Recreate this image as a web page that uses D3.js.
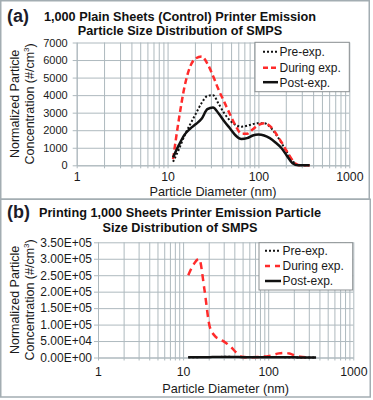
<!DOCTYPE html>
<html>
<head>
<meta charset="utf-8">
<script src="https://cdn.jsdelivr.net/npm/d3@7"></script>
<style>
  body { margin: 0; background: #fff; }
  svg text { font-family: "Liberation Sans", Arial, sans-serif; }
</style>
</head>
<body>
<div class="chart"></div>
<script>
// SMPS bin diameters (nm)
const diameters = [11.5, 13.3, 15.4, 17.8, 20.5, 23.7, 27.4, 31.6, 36.5, 42.2, 48.7, 56.2, 64.9, 75, 86.6, 100, 115.5, 133.4, 154, 177.8, 205.4, 237.1, 273.8, 316.2, 365.2];

// (a) control, plain sheets
const preA    = [200, 900, 1700, 2350, 2950, 3550, 3950, 4000, 3500, 2950, 2550, 2300, 2200, 2250, 2350, 2400, 2400, 2200, 1800, 1300, 750, 250, 20, 0, 0];
const duringA = [350, 2600, 4500, 5650, 6100, 6200, 5800, 5100, 4300, 3600, 2900, 2250, 1800, 1800, 2050, 2300, 2400, 2250, 1850, 1350, 800, 280, 20, 0, 0];
const postA   = [450, 1150, 1750, 2100, 2350, 2650, 3200, 3300, 2950, 2500, 2100, 1700, 1500, 1550, 1700, 1750, 1700, 1550, 1300, 1000, 550, 120, 0, 0, 0];

// (b) printing 1,000 sheets
const preB    = [600, 900, 1100, 1300, 1500, 1700, 1900, 2000, 1900, 1700, 1500, 1300, 1200, 1200, 1300, 1400, 1400, 1300, 1100, 900, 600, 300, 100, 0, 0];
const duringB = [250000, 283000, 300000, 207000, 95000, 65000, 55000, 45000, 32000, 15000, 2500, 1000, 1000, 1500, 2500, 4000, 8000, 12500, 14000, 12000, 6500, 2500, 500, null, null];
const postB   = [400, 700, 900, 1000, 1100, 1200, 1300, 1400, 1300, 1200, 1100, 1000, 900, 900, 1000, 1000, 1000, 900, 800, 600, 400, 200, 50, 0, 0];

const seriesNames = ["Pre-exp.", "During exp.", "Post-exp."];
const xDecades = [1, 10, 100, 1000];
const yTicksA = [0, 1000, 2000, 3000, 4000, 5000, 6000, 7000];
const yTicksB = [0, 50000, 100000, 150000, 200000, 250000, 300000, 350000];

const titleA = ["1,000 Plain Sheets (Control) Printer Emission", "Particle Size Distribution of SMPS"];
const titleB = ["Printing 1,000 Sheets Printer Emission Particle", "Size Distribution of SMPS"];

const gridColor = "#aeb9be";
const red = "#ff2b2b";

const svg = d3.select(".chart")
	.append("svg")
	.attr("width", 373)
	.attr("height", 400);

// all log gridline positions 1..1000
const xGrid = [];
[1, 10, 100].forEach(function(dec) {
	for (let k = 1; k < 10; k++) xGrid.push(dec * k);
});
xGrid.push(1000);

function sciFormat(v) {
	const parts = v.toExponential(2).split("e");
	const exp = Number(parts[1]);
	return parts[0] + "E" + (exp < 0 ? "-" : "+") + String(Math.abs(exp)).padStart(2, "0");
}

function drawPanel(p) {
	const g = svg.append("g");

	// panel frame
	g.append("rect")
		.attr("x", p.frame[0]).attr("y", p.frame[1])
		.attr("width", p.frame[2]).attr("height", p.frame[3])
		.attr("fill", "none")
		.attr("stroke", "#a3adb2")
		.attr("stroke-width", 1.5);

	const x = d3.scaleLog().domain([1, 1000]).range([p.left, p.right]);
	const y = d3.scaleLinear().domain([0, p.yMax]).range([p.bottom, p.top]);

	// x grid + labels
	const xAxis = g.append("g")
		.attr("transform", "translate(0," + p.bottom + ")")
		.call(d3.axisBottom(x)
			.tickValues(xGrid)
			.tickSizeInner(-(p.bottom - p.top))
			.tickSizeOuter(0)
			.tickPadding(p.xPad)
			.tickFormat(function(d) { return xDecades.indexOf(d) >= 0 ? d : ""; }));
	xAxis.select(".domain").attr("stroke", gridColor);
	xAxis.selectAll(".tick line").attr("stroke", gridColor).attr("y1", 3);
	xAxis.selectAll(".tick text")
		.attr("fill", "#1a1a1a")
		.style("font-size", p.xFont + "px");

	// y grid + labels
	const yAxis = g.append("g")
		.attr("transform", "translate(" + p.left + ",0)")
		.call(d3.axisLeft(y)
			.tickValues(p.yTicks)
			.tickSizeInner(-(p.right - p.left))
			.tickSizeOuter(0)
			.tickPadding(p.yPad)
			.tickFormat(p.yFormat));
	yAxis.select(".domain").attr("stroke", gridColor);
	yAxis.selectAll(".tick line").attr("stroke", gridColor).attr("x1", -4);
	yAxis.selectAll(".tick text")
		.attr("fill", "#1a1a1a")
		.style("font-size", p.yFont + "px");

	// curves
	const line = d3.line()
		.defined(function(d) { return d[1] != null; })
		.x(function(d) { return x(d[0]); })
		.y(function(d) { return y(d[1]); })
		.curve(d3.curveMonotoneX);

	const styles = [
		{ stroke: "#111", width: 2, dash: "2,2" },
		{ stroke: red, width: 2.5, dash: p.redDash },
		{ stroke: "#111", width: 2.5, dash: null }
	];

	p.series.forEach(function(vals, i) {
		g.append("path")
			.datum(diameters.map(function(d, j) { return [d, vals[j]]; }))
			.attr("fill", "none")
			.attr("stroke", styles[i].stroke)
			.attr("stroke-width", styles[i].width)
			.attr("stroke-dasharray", styles[i].dash)
			.attr("d", line);
	});

	// legend
	const lg = g.append("g");
	lg.append("rect")
		.attr("x", p.legend[0]).attr("y", p.legend[1])
		.attr("width", p.legend[2]).attr("height", p.legend[3])
		.attr("fill", "#fff")
		.attr("stroke", "#8a8f92")
		.attr("stroke-width", 1);
	seriesNames.forEach(function(name, i) {
		const cy = p.legendRows[i];
		lg.append("line")
			.attr("x1", p.sample[0]).attr("x2", p.sample[1])
			.attr("y1", cy).attr("y2", cy)
			.attr("stroke", styles[i].stroke)
			.attr("stroke-width", styles[i].width)
			.attr("stroke-dasharray", i === 1 ? p.legendDash : styles[i].dash);
		lg.append("text")
			.attr("x", p.sample[1] + 1.5)
			.attr("y", cy + 4.3)
			.attr("fill", "#1a1a1a")
			.style("font-size", "12px")
			.text(name);
	});

	// panel letter
	g.append("text")
		.attr("x", 7)
		.attr("y", p.letterY)
		.attr("fill", "#1c1c2a")
		.style("font-size", "18px")
		.style("font-weight", "bold")
		.text(p.letter);

	// title
	p.title.forEach(function(t, i) {
		g.append("text")
			.attr("x", 180)
			.attr("y", p.titleY[i])
			.attr("text-anchor", "middle")
			.attr("fill", "#111")
			.style("font-size", "12.7px")
			.style("font-weight", "bold")
			.text(t);
	});

	// y title
	const cy = (p.top + p.bottom) / 2;
	g.append("text")
		.attr("transform", "translate(19," + cy + ") rotate(-90)")
		.attr("text-anchor", "middle")
		.attr("fill", "#1a1a1a")
		.style("font-size", "12.5px")
		.text("Normalized Particle");
	const yt2 = g.append("text")
		.attr("transform", "translate(33.5," + cy + ") rotate(-90)")
		.attr("text-anchor", "middle")
		.attr("fill", "#1a1a1a")
		.style("font-size", "12.5px");
	yt2.append("tspan").text("Concentration (#/cm");
	yt2.append("tspan").attr("dy", -4.5).style("font-size", "8px").text("3");
	yt2.append("tspan").attr("dy", 4.5).text(")");

	// x title
	g.append("text")
		.attr("x", (p.left + p.right) / 2)
		.attr("y", p.xTitleY)
		.attr("text-anchor", "middle")
		.attr("fill", "#1a1a1a")
		.style("font-size", "12.7px")
		.text("Particle Diameter (nm)");
}

drawPanel({
	letter: "(a)", letterY: 22, title: titleA, titleY: [20.5, 34.5],
	frame: [0.75, 0.75, 368.5, 198.5],
	left: 76.7, right: 349.3, top: 42.5, bottom: 165.3,
	yMax: 7000, yTicks: yTicksA, yFormat: d3.format("d"), yFont: 11, yPad: 9,
	xFont: 12.3, xPad: 7,
	xTitleY: 195.5,
	series: [preA, duringA, postA], redDash: "6,3.5", legendDash: "5,3",
	legend: [255, 42.3, 94.3, 49.4], legendRows: [51.7, 67.7, 82.2], sample: [263, 278]
});

drawPanel({
	letter: "(b)", letterY: 218, title: titleB, titleY: [216.5, 231.5],
	frame: [0.75, 199.25, 369.5, 197.75],
	left: 98, right: 353.3, top: 242.3, bottom: 357.5,
	yMax: 350000, yTicks: yTicksB, yFormat: sciFormat, yFont: 12, yPad: 6,
	xFont: 12.3, xPad: 10,
	xTitleY: 393,
	series: [preB, duringB, postB], redDash: "7,5", legendDash: "5,5",
	legend: [259, 242.7, 93.7, 47.3], legendRows: [250.7, 266, 281], sample: [265, 281]
});
</script>
</body>
</html>
